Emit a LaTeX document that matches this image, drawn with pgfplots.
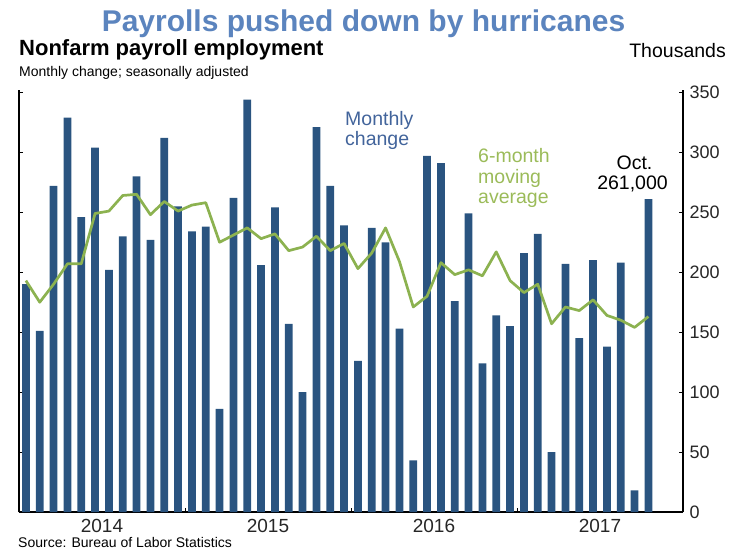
\documentclass[border=0pt]{standalone}
\usepackage{fontspec}
\setmainfont{Liberation Sans}
\usepackage{pgfplots}
\pgfplotsset{compat=1.18}
\usepackage{pgfplotstable}
\definecolor{barblue}{RGB}{42,84,128}
\definecolor{magreen}{RGB}{140,178,80}
\definecolor{labgreen}{RGB}{155,187,89}
\definecolor{titleblue}{RGB}{91,132,190}
\definecolor{labblue}{RGB}{66,100,155}

\pgfplotstableread{
x jobs ma
0 190 193
1 151 175
2 272 190
3 329 207
4 246 207
5 304 249
6 202 251
7 230 264
8 280 265
9 227 248
10 312 259
11 255 251
12 234 256
13 238 258
14 86 225
15 262 231
16 344 237
17 206 228
18 254 232
19 157 218
20 100 221
21 321 230
22 272 218
23 239 224
24 126 203
25 237 216
26 225 237
27 153 209
28 43 171
29 297 180
30 291 208
31 176 198
32 249 202
33 124 197
34 164 217
35 155 193
36 216 183
37 232 190
38 50 157
39 207 171
40 145 168
41 210 177
42 138 164
43 208 160
44 18 154
45 261 163
}\datatable

\begin{document}
\begin{tikzpicture}[x=1pt,y=1pt]
\useasboundingbox (0,0) rectangle (737,550);
\begin{axis}[
  at={(19pt,38pt)}, anchor=south west,
  scale only axis, width=664pt, height=422pt,
  xmin=-0.5, xmax=47.5, ymin=0, ymax=352,
  axis x line*=bottom, axis y line*=box,
  axis line style={line width=1.2pt, black},
  tick align=inside,
  major tick length=4pt,
  tick style={line width=1pt, black},
  ytick={0,50,...,350},
  ytick pos=both,
  yticklabel pos=right,
  xtick={-0.5,11.5,23.5,35.5,47.5},
  x tick label as interval,
  xticklabels={2014,2015,2016,2017},
  xtick pos=bottom,
  /pgf/number format/assume math mode=true,
  yticklabel style={anchor=west, xshift=3pt, font=\fontsize{18}{20}\selectfont, text=black!85},
  xticklabel style={anchor=north, inner sep=0pt, yshift=-7pt, font=\fontsize{19}{21}\selectfont, text=black!85},
]
\addplot[ybar, bar width=0.56, bar shift=0pt, fill=barblue, draw=none] table[x=x, y=jobs] {\datatable};
\addplot[sharp plot, color=magreen, line width=2.7pt, line join=round] table[x=x, y=ma] {\datatable};
\end{axis}
\node[anchor=base, text=titleblue, font=\fontsize{30}{36}\selectfont\bfseries] at (363.5,518) {Payrolls pushed down by hurricanes};
\node[anchor=base west, inner sep=0pt, font=\fontsize{22}{25}\selectfont\bfseries] at (19,494) {Nonfarm payroll employment};
\node[anchor=base west, inner sep=0pt, font=\fontsize{14}{16}\selectfont] at (19,473) {Monthly change; seasonally adjusted};
\node[anchor=base east, inner sep=0pt, font=\fontsize{19.5}{22}\selectfont] at (726,492) {Thousands};
\node[anchor=base west, inner sep=0pt, text=labblue, font=\fontsize{19.5}{22}\selectfont] at (345,424) {Monthly};
\node[anchor=base west, inner sep=0pt, text=labblue, font=\fontsize{19.5}{22}\selectfont] at (345,404) {change};
\node[anchor=base west, inner sep=0pt, text=labgreen, font=\fontsize{19.5}{22}\selectfont] at (478,387) {6-month};
\node[anchor=base west, inner sep=0pt, text=labgreen, font=\fontsize{19.5}{22}\selectfont] at (478,366.5) {moving};
\node[anchor=base west, inner sep=0pt, text=labgreen, font=\fontsize{19.5}{22}\selectfont] at (478,346) {average};
\node[anchor=base, inner sep=0pt, font=\fontsize{19.5}{22}\selectfont] at (634.5,380.7) {Oct.};
\node[anchor=base, inner sep=0pt, font=\fontsize{19.5}{22}\selectfont] at (632.5,360.7) {261,000};
\node[anchor=base west, inner sep=0pt, font=\fontsize{14}{16}\selectfont] at (18,2.5) {Source: Bureau of Labor Statistics};
\end{tikzpicture}
\end{document}
